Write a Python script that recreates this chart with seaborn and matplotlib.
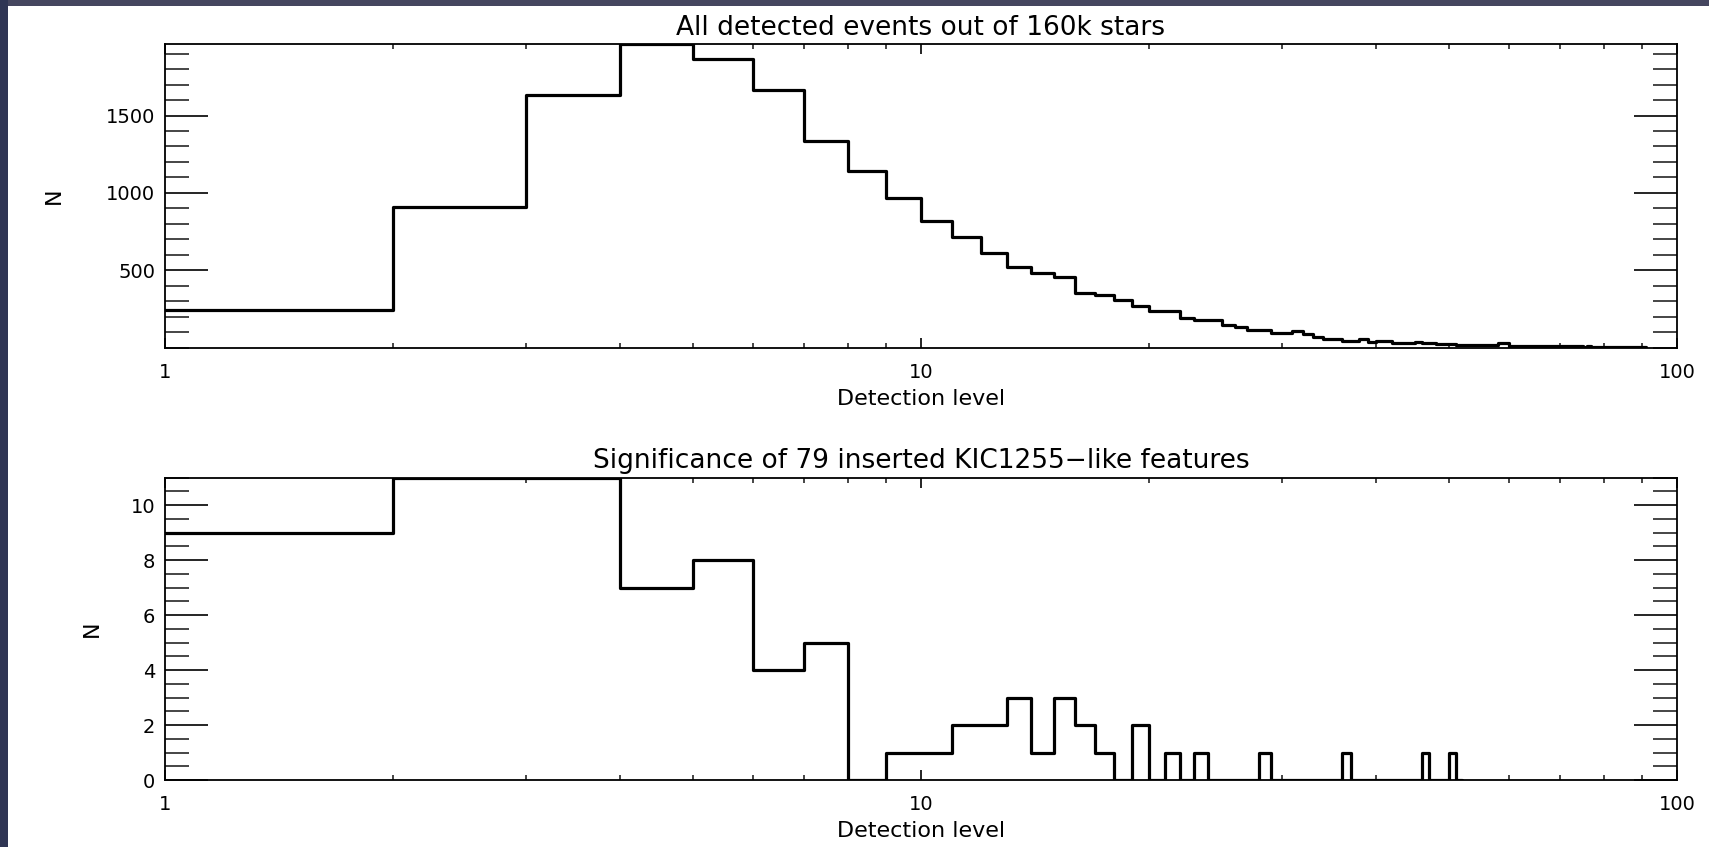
import numpy as np
import pandas as pd
import matplotlib
matplotlib.use("Agg")
import matplotlib.pyplot as plt
from matplotlib.patches import Rectangle
from matplotlib.ticker import FixedLocator, NullFormatter, FixedFormatter, MultipleLocator
import seaborn as sns

# ---------------- data ----------------
# integer bins [k, k+1) of detection level
top_bin_left = list(range(1, 91))
top_counts = [242, 908, 1634, 1960, 1866, 1664, 1336, 1140, 967, 820,
              717, 613, 522, 480, 458, 354, 342, 307, 268, 238,
              236, 191, 182, 182, 145, 134, 115, 115, 95, 95,
              108, 86, 69, 58, 58, 43, 43, 53, 38, 43,
              43, 32, 32, 32, 39, 28, 28, 22, 22, 22,
              19, 20, 17, 16, 16, 15, 16, 28, 28, 13,
              13, 12, 12, 11, 10, 12, 10, 9, 10, 9,
              8, 9, 8, 8, 7, 9, 7, 6, 7, 6,
              6, 7, 5, 6, 5, 6, 5, 4, 5, 4]

bot_bin_left = list(range(1, 52))
bot_counts = [9, 11, 11, 7, 8, 4, 5, 0, 1, 1,
              2, 2, 3, 1, 3, 2, 1, 0, 2, 0,
              1, 0, 1, 0, 0, 0, 0, 1, 0, 0,
              0, 0, 0, 0, 0, 1, 0, 0, 0, 0,
              0, 0, 0, 0, 0, 1, 0, 0, 0, 1,
              0]

top_title = "All detected events out of 160k stars"
bot_title = "Significance of 79 inserted KIC1255\u2212like features"
x_label = "Detection level"
y_label = "N"
x_major = [1, 10, 100]
x_major_labels = ["1", "10", "100"]
top_y_major = [500, 1000, 1500]
bot_y_major = [0, 2, 4, 6, 8, 10]

# ---------------- style ----------------
sns.set_theme(style="white")
plt.rcParams["font.family"] = ["DejaVu Sans"]

W, H = 1709, 847
fig = plt.figure(figsize=(W / 100, H / 100), dpi=100)
fig.patch.set_facecolor("white")

left = 165 / W
width = (1677 - 165) / W
ax_top = fig.add_axes([left, 1 - 347.7 / H, width, (347.7 - 44.3) / H])
ax_bot = fig.add_axes([left, 1 - 780 / H, width, (780 - 477.7) / H])


def draw(ax, bin_left, counts, ylim, ymajor, yminor_step, title, ylab_x):
    bl = np.array(bin_left, dtype=float)
    edges = list(np.append(bl, bl[-1] + 1))
    # one observation per counted event, placed at the bin centre
    obs = np.repeat(bl + 0.5, np.array(counts, dtype=int))
    sns.histplot(x=obs, bins=edges, element="step", fill=False,
                 color="black", linewidth=2.3, ax=ax)
    ax.set_xscale("log")
    ax.set_xlim(1, 100)
    ax.set_ylim(*ylim)
    ax.xaxis.set_major_locator(FixedLocator(x_major))
    ax.xaxis.set_major_formatter(FixedFormatter(x_major_labels))
    minors = [m * d for d in (1, 10) for m in range(2, 10)]
    ax.xaxis.set_minor_locator(FixedLocator(minors))
    ax.xaxis.set_minor_formatter(NullFormatter())
    ax.yaxis.set_major_locator(FixedLocator(ymajor))
    ax.yaxis.set_minor_locator(MultipleLocator(yminor_step))
    ax.tick_params(axis="x", which="major", direction="in", length=7, width=1.2,
                   top=True, bottom=True, labelsize=14, pad=11, colors="black")
    ax.tick_params(axis="x", which="minor", direction="in", length=3.5, width=1.2,
                   top=True, bottom=True)
    ax.tick_params(axis="y", which="major", direction="in", length=31, width=1.2,
                   left=True, right=True, labelsize=14, pad=7, colors="black")
    ax.tick_params(axis="y", which="minor", direction="in", length=17, width=1.2,
                   left=True, right=True)
    for s in ax.spines.values():
        s.set_color("black")
        s.set_linewidth(1.3)
    ax.set_facecolor("white")
    ax.set_title(title, fontsize=19, pad=7, color="black")
    ax.set_xlabel(x_label, fontsize=16, labelpad=5, color="black")
    ax.set_ylabel(y_label, fontsize=16, color="black")
    ax.yaxis.set_label_coords(ylab_x, 0.5)


draw(ax_top, top_bin_left, top_counts, (0, 1960), top_y_major, 100, top_title, -0.067)
draw(ax_bot, bot_bin_left, bot_counts, (0, 11), bot_y_major, 0.5, bot_title, -0.042)

# dark frame bands on top and left edges
fig.patches.append(Rectangle((0, 1 - 6 / H), 1, 6 / H, transform=fig.transFigure,
                             facecolor="#45465f", edgecolor="none", zorder=10))
fig.patches.append(Rectangle((0, 0), 8 / W, 1, transform=fig.transFigure,
                             facecolor="#2f3554", edgecolor="none", zorder=10))

fig.savefig("out.png", dpi=100)
